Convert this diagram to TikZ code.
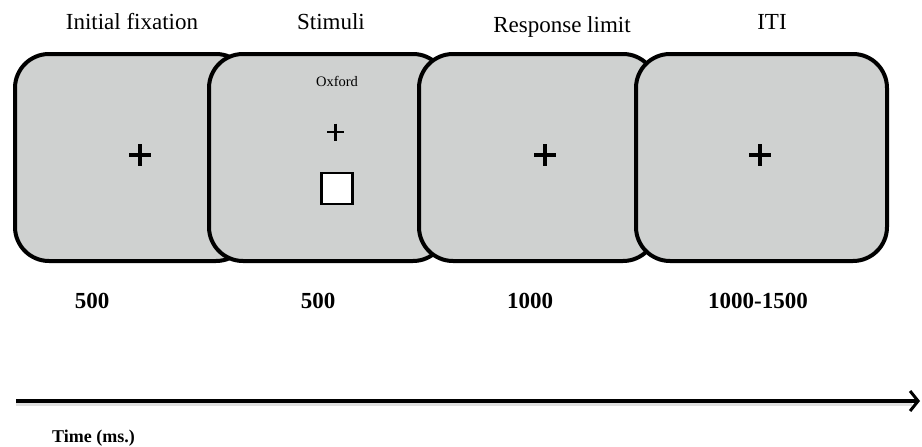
\documentclass[tikz,border=0pt]{standalone}
\usepackage{fontspec}
\setmainfont{Liberation Serif}
\usetikzlibrary{arrows.meta}
\definecolor{screengray}{RGB}{207,209,208}
\begin{document}
\begin{tikzpicture}[x=1pt,y=-1pt,
  screen/.style={draw=black,line width=4pt,fill=screengray,rounded corners=34pt,
    minimum height=207pt,inner sep=0pt},
  title/.style={anchor=base,font=\fontsize{23}{26}\selectfont,inner sep=0pt},
  dur/.style={anchor=base,font=\fontsize{23}{26}\selectfont\bfseries,inner sep=0pt},
  crossbig/.style={line width=3.6pt},
  crosssmall/.style={line width=2.8pt}]
\useasboundingbox (0,0) rectangle (922,447);
% screens (later ones overlap earlier ones)
\node[screen,minimum width=235pt] (s1) at (132.5,157.5) {};
\node[screen,minimum width=238pt] (s2) at (328,157.5) {};
\node[screen,minimum width=238pt] (s3) at (538,157.5) {};
\node[screen,minimum width=251pt] (s4) at (761.5,157.5) {};
% fixation crosses
\draw[crossbig] (129,155) -- (151,155) (140,144) -- (140,166);
\draw[crossbig] (534,155) -- (556,155) (545,144) -- (545,166);
\draw[crossbig] (749,155) -- (771,155) (760,144) -- (760,166);
\draw[crosssmall] (327,132) -- (344,132) (335.5,123.5) -- (335.5,140.5);
% stimulus
\node[anchor=base,font=\fontsize{14.5}{16}\selectfont,inner sep=0pt] (word) at (337,86) {Oxford};
\node[draw=black,line width=2.2pt,fill=white,minimum size=31pt,inner sep=0pt] (sq) at (337,188.5) {};
% titles
\node[title] (t1) at (132,30) {Initial fixation};
\node[title] (t2) at (331,30) {Stimuli};
\node[title] (t3) at (562,32) {Response limit};
\node[title] (t4) at (772,30) {ITI};
% durations
\node[dur] (d1) at (92,308) {500};
\node[dur] (d2) at (318,308) {500};
\node[dur] (d3) at (530,308) {1000};
\node[dur] (d4) at (758,308) {1000-1500};
% time axis
\coordinate (a0) at (16,401);
\coordinate (a1) at (920,401);
\coordinate (b0) at (16,404.5);
\coordinate (b1) at (912,404.5);
\draw[line width=3pt,gray!25] (b0) -- (b1);
\draw[line width=4pt,-{Straight Barb[length=8pt,width=20pt,line width=3pt]}] (a0) -- (a1);
\node[anchor=base west,font=\fontsize{18}{20}\selectfont\bfseries,inner sep=0pt] (tl) at (52,442) {Time (ms.)};
\end{tikzpicture}
\end{document}
